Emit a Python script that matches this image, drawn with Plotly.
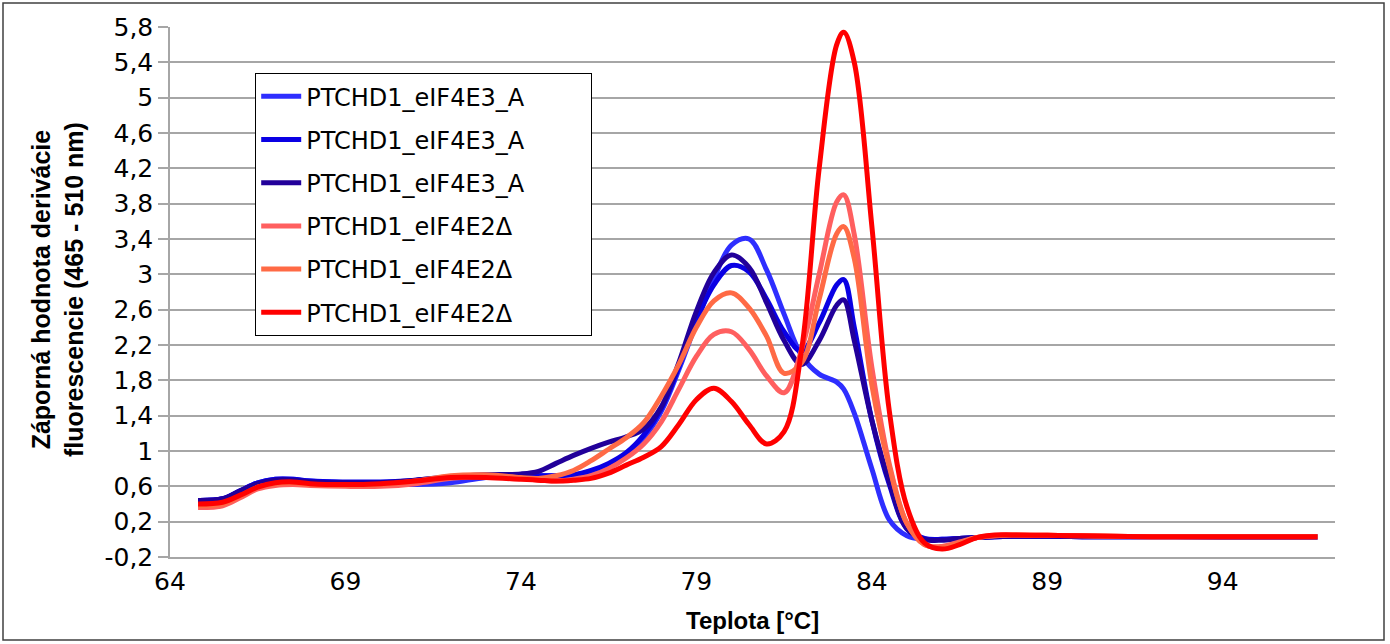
import plotly.graph_objects as go

# Temperature grid (°C)
temp = [64.8, 65.5, 66.0, 66.5, 67.0, 67.5, 68.0, 69.0, 70.0, 71.0, 72.0, 73.0, 74.0,
        74.5, 75.0, 75.5, 76.0, 76.5, 77.0, 77.5, 78.0, 78.5, 79.0, 79.5, 80.0, 80.5,
        81.0, 81.5, 82.0, 82.5, 83.0, 83.2, 83.5, 84.0, 84.5, 85.0, 85.5, 86.0, 86.5,
        87.0, 87.5, 88.0, 89.0, 90.0, 92.0, 94.0, 96.7]

e3_a1 = [0.44, 0.46, 0.55, 0.64, 0.68, 0.68, 0.66, 0.64, 0.63, 0.62, 0.64, 0.70, 0.72,
         0.72, 0.72, 0.73, 0.77, 0.85, 0.97, 1.15, 1.45, 1.92, 2.45, 2.95, 3.33, 3.40,
         3.05, 2.55, 2.08, 1.87, 1.78, 1.70, 1.43, 0.80, 0.22, 0.04, 0.00, 0.00, 0.01,
         0.02, 0.03, 0.035, 0.035, 0.03, 0.03, 0.025, 0.025]

e3_a2 = [0.44, 0.46, 0.55, 0.64, 0.68, 0.68, 0.66, 0.65, 0.65, 0.67, 0.70, 0.72, 0.72,
         0.72, 0.72, 0.73, 0.78, 0.86, 0.98, 1.18, 1.48, 1.95, 2.48, 2.88, 3.10, 3.03,
         2.72, 2.35, 2.13, 2.45, 2.88, 2.94, 2.40, 1.35, 0.62, 0.12, 0.01, 0.00, 0.01,
         0.02, 0.03, 0.035, 0.035, 0.03, 0.03, 0.025, 0.025]

e3_a3 = [0.44, 0.46, 0.55, 0.63, 0.67, 0.67, 0.65, 0.64, 0.64, 0.67, 0.71, 0.73, 0.74,
         0.77, 0.86, 0.95, 1.03, 1.10, 1.16, 1.25, 1.50, 2.00, 2.58, 3.02, 3.22, 3.08,
         2.68, 2.25, 1.98, 2.25, 2.65, 2.71, 2.25, 1.35, 0.65, 0.12, 0.00, -0.01, 0.01,
         0.02, 0.03, 0.035, 0.035, 0.03, 0.03, 0.025, 0.025]

e2d_1 = [0.36, 0.38, 0.47, 0.57, 0.61, 0.62, 0.61, 0.60, 0.60, 0.63, 0.69, 0.71, 0.69,
         0.67, 0.66, 0.68, 0.72, 0.80, 0.92, 1.08, 1.33, 1.70, 2.07, 2.32, 2.35, 2.15,
         1.85, 1.66, 2.15, 3.00, 3.82, 3.90, 3.45, 1.95, 0.85, 0.18, -0.06, -0.08, -0.03,
         0.02, 0.04, 0.05, 0.045, 0.04, 0.03, 0.03, 0.03]

e2d_2 = [0.38, 0.40, 0.49, 0.59, 0.63, 0.64, 0.62, 0.61, 0.62, 0.66, 0.72, 0.73, 0.70,
         0.69, 0.72, 0.78, 0.89, 1.02, 1.15, 1.32, 1.62, 1.98, 2.40, 2.70, 2.79, 2.62,
         2.30, 1.88, 2.00, 2.72, 3.46, 3.54, 3.18, 1.75, 0.82, 0.18, -0.06, -0.09, -0.04,
         0.02, 0.04, 0.05, 0.045, 0.04, 0.03, 0.03, 0.03]

e2d_3 = [0.40, 0.42, 0.50, 0.59, 0.64, 0.65, 0.63, 0.62, 0.63, 0.66, 0.70, 0.70, 0.68,
         0.67, 0.66, 0.67, 0.69, 0.75, 0.84, 0.93, 1.05, 1.30, 1.58, 1.71, 1.56, 1.30,
         1.08, 1.22, 2.15, 4.20, 5.60, 5.74, 5.40, 3.55, 1.45, 0.37, -0.04, -0.11, -0.06,
         0.02, 0.05, 0.05, 0.045, 0.04, 0.03, 0.03, 0.03]

series_names = ["PTCHD1_eIF4E3_A", "PTCHD1_eIF4E3_A", "PTCHD1_eIF4E3_A",
                "PTCHD1_eIF4E2Δ", "PTCHD1_eIF4E2Δ", "PTCHD1_eIF4E2Δ"]
series_values = [e3_a1, e3_a2, e3_a3, e2d_1, e2d_2, e2d_3]
series_colors = ["#2E2EFF", "#0A00E4", "#22009A", "#FF5F5F", "#FF6A45", "#FF0000"]

y_ticks = [-0.2, 0.2, 0.6, 1.0, 1.4, 1.8, 2.2, 2.6, 3.0, 3.4, 3.8, 4.2, 4.6, 5.0, 5.4, 5.8]
y_ticktext = ["-0,2", "0,2", "0,6", "1", "1,4", "1,8", "2,2", "2,6", "3", "3,4",
              "3,8", "4,2", "4,6", "5", "5,4", "5,8"]
x_ticks = [64, 69, 74, 79, 84, 89, 94]

X_RANGE = [64, 97.2]
Y_RANGE = [-0.2, 5.8]

W, H = 1390, 644
ML, MR, MT, MB = 170, 55, 27, 87
PW = W - ML - MR
PH = H - MT - MB

fig = go.Figure()
pad = "\u00a0" * 8
for i, (name, vals, col) in enumerate(zip(series_names, series_values, series_colors)):
    fig.add_trace(go.Scatter(
        x=temp, y=vals, name=name + pad, mode="lines",
        line=dict(color=col, width=5, shape="spline", smoothing=1.0),
        legendgroup=f"g{i}",
    ))

grid_col = "#A6A6A6"
tick_font = dict(family="DejaVu Sans, Verdana, sans-serif", size=25, color="black")

fig.update_layout(
    width=W, height=H,
    margin=dict(l=ML, r=MR, t=MT, b=MB),
    paper_bgcolor="white", plot_bgcolor="white",
    showlegend=True,
    legend=dict(
        x=(255 - ML) / PW, y=(557 - 73) / PH, xanchor="left", yanchor="top",
        bgcolor="white", bordercolor="black", borderwidth=1.2,
        font=dict(family="DejaVu Sans, Verdana, sans-serif", size=24, color="black"),
        tracegroupgap=9, traceorder="grouped", itemwidth=40,
    ),
    xaxis=dict(
        range=X_RANGE, tickvals=x_ticks, ticktext=[str(v) for v in x_ticks],
        showgrid=False, zeroline=False, showline=True, linecolor=grid_col, linewidth=1.5,
        ticks="", tickfont=tick_font, ticklabelstandoff=1,
    ),
    xaxis2=dict(
        range=X_RANGE, overlaying="x", anchor="free",
        position=(0 - Y_RANGE[0]) / (Y_RANGE[1] - Y_RANGE[0]), side="bottom",
        tickvals=x_ticks, ticks="outside", ticklen=8, tickwidth=1.5, tickcolor=grid_col,
        showticklabels=False, showgrid=False, zeroline=False,
        showline=True, linecolor=grid_col, linewidth=1.5,
    ),
    yaxis=dict(
        range=Y_RANGE, tickvals=y_ticks, ticktext=y_ticktext,
        showgrid=True, gridcolor=grid_col, gridwidth=1.5, zeroline=False,
        showline=True, linecolor=grid_col, linewidth=1.5,
        ticks="outside", ticklen=10, tickwidth=1.5, tickcolor=grid_col,
        tickfont=tick_font,
    ),
    annotations=[
        dict(text="<b>Záporná hodnota derivácie<br>fluorescencie (465 - 510 nm)</b>",
             xref="paper", yref="paper", x=(57 - ML) / PW, y=(557 - 290) / PH,
             xanchor="center", yanchor="middle", textangle=-90, showarrow=False,
             font=dict(family="Liberation Sans, Arial, sans-serif",
                       size=25, color="black")),
        dict(text="<b>Teplota [°C]</b>",
             xref="paper", yref="paper", x=(752 - ML) / PW, y=(557 - 620) / PH,
             xanchor="center", yanchor="middle", showarrow=False,
             font=dict(family="Liberation Sans, Arial, sans-serif", size=24, color="black")),
    ],
    shapes=[
        dict(type="rect", xref="paper", yref="paper",
             x0=(3 - ML) / PW, x1=(1384 - ML) / PW, y0=(557 - 640) / PH, y1=(557 - 3) / PH,
             line=dict(color="#404040", width=1.5), fillcolor="rgba(0,0,0,0)", layer="below"),
    ],
)

fig.write_html("out.html")
